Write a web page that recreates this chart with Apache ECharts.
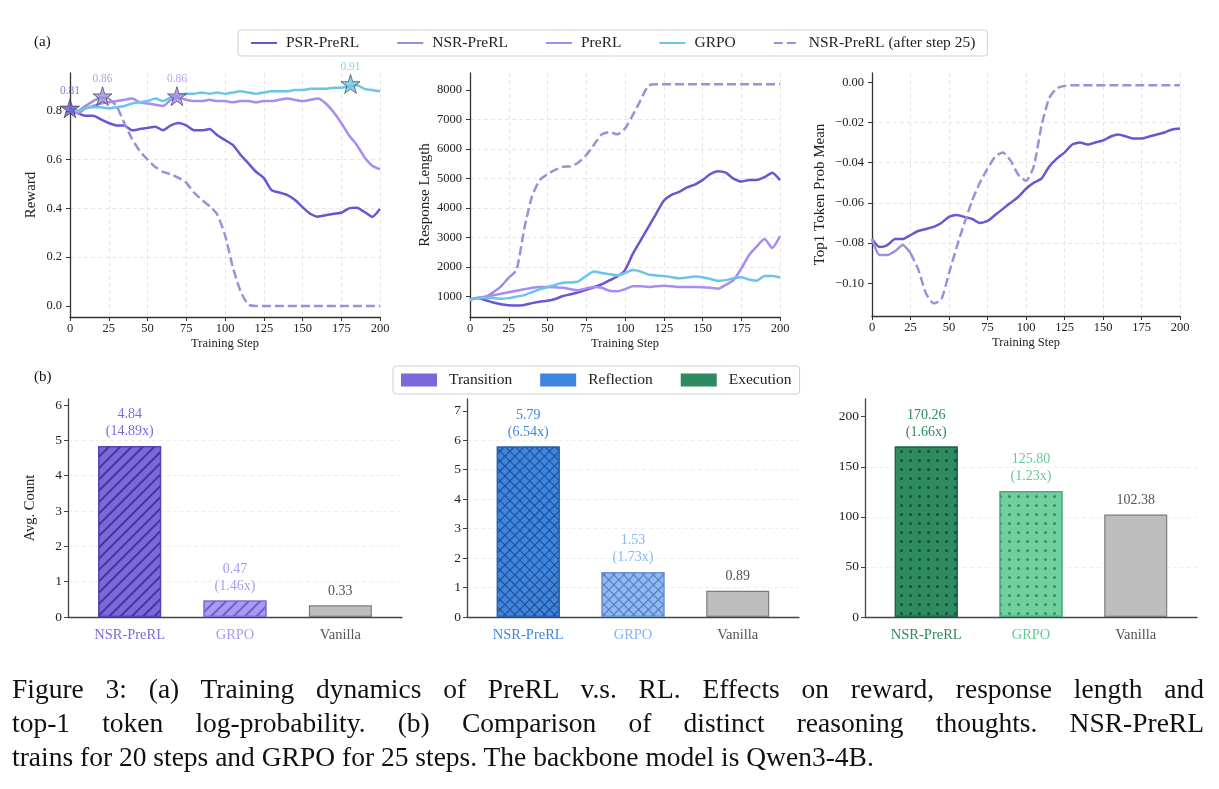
<!DOCTYPE html>
<html><head><meta charset="utf-8">
<script src="https://cdn.jsdelivr.net/npm/echarts@6/dist/echarts.min.js"></script>
<style>
html,body{margin:0;padding:0;background:#fff;}
#chart{position:absolute;left:0;top:0;width:1219px;height:789px;}
#caption{position:absolute;left:12px;top:672px;width:1192px;font-family:'Liberation Serif','Times New Roman',serif;font-size:27.5px;line-height:34px;color:#111;}
#caption .j{text-align:justify;text-align-last:justify;}
#caption .l{text-align:left;}
</style></head>
<body>
<div id="chart"></div>
<div id="caption">
<div class="j">Figure 3: (a) Training dynamics of PreRL v.s. RL. Effects on reward, response length and</div>
<div class="j">top-1 token log-probability. (b) Comparison of distinct reasoning thoughts. NSR-PreRL</div>
<div class="l">trains for 20 steps and GRPO for 25 steps. The backbone model is Qwen3-4B.</div>
</div>
<script>
// ---------------- DATA ----------------
const steps = [0,5,10,15,20,25,30,35,40,45,50,55,60,65,70,75,80,85,90,95,100,105,110,115,120,125,130,135,140,145,150,155,160,165,170,175,180,185,190,195,200];
const nsrSteps = steps.slice(0, 6);      // 0..25
const afterSteps = steps.slice(5);       // 25..200

// Reward
const rewardPSR = [0.81,0.79,0.78,0.78,0.765,0.75,0.74,0.74,0.72,0.725,0.73,0.735,0.72,0.74,0.75,0.74,0.72,0.72,0.725,0.70,0.68,0.66,0.62,0.585,0.55,0.525,0.475,0.465,0.455,0.435,0.405,0.378,0.366,0.372,0.378,0.382,0.40,0.402,0.385,0.365,0.397];
const rewardPreRL = [0.80,0.79,0.81,0.82,0.83,0.835,0.84,0.845,0.85,0.835,0.83,0.825,0.82,0.845,0.855,0.845,0.84,0.84,0.845,0.84,0.84,0.835,0.84,0.84,0.835,0.84,0.84,0.845,0.85,0.845,0.84,0.845,0.85,0.83,0.795,0.75,0.70,0.66,0.61,0.575,0.56];
const rewardGRPO = [0.80,0.80,0.81,0.815,0.815,0.81,0.815,0.82,0.83,0.835,0.84,0.85,0.84,0.855,0.865,0.87,0.87,0.875,0.87,0.875,0.87,0.875,0.88,0.875,0.87,0.875,0.88,0.88,0.88,0.885,0.885,0.89,0.89,0.89,0.895,0.895,0.90,0.905,0.89,0.885,0.88];
const rewardNSR = [0.81,0.80,0.82,0.84,0.855,0.85];
const rewardNSRAfter = [0.85,0.82,0.75,0.685,0.635,0.60,0.57,0.55,0.54,0.525,0.505,0.465,0.435,0.41,0.375,0.29,0.16,0.06,0.005,0,0,0,0,0,0,0,0,0,0,0,0,0,0,0,0,0];

// Best-reward stars
const starSteps = [0, 21, 69, 181];
const starValues = [0.81, 0.86, 0.86, 0.91];
const starSeries = ['PSR-PreRL', 'NSR-PreRL', 'PreRL', 'GRPO'];

// Response length
const lenPSR = [900,950,880,800,740,710,700,720,780,830,860,920,1020,1080,1150,1230,1320,1420,1550,1680,1900,2450,2900,3350,3800,4250,4450,4550,4700,4800,4950,5150,5250,5200,5000,4900,4950,4950,5050,5200,4950];
const lenPreRL = [900,950,1000,1050,1100,1150,1200,1250,1300,1330,1330,1320,1300,1250,1220,1280,1330,1300,1200,1180,1250,1350,1350,1330,1350,1370,1350,1330,1330,1330,1320,1300,1270,1400,1560,1950,2400,2700,2950,2650,3050];
const lenGRPO = [900,950,950,950,930,950,1000,1050,1150,1250,1320,1400,1470,1480,1520,1700,1850,1800,1760,1720,1800,1900,1850,1750,1720,1700,1660,1620,1650,1680,1660,1600,1540,1560,1620,1660,1580,1540,1700,1700,1650];
const lenNSR = [900,960,1000,1150,1350,1650];
const lenNSRAfter = [1650,1900,3300,4400,4950,5150,5300,5400,5420,5550,5800,6150,6500,6580,6500,6700,7150,7650,8150,8200,8200,8200,8200,8200,8200,8200,8200,8200,8200,8200,8200,8200,8200,8200,8200,8200];

// Top1 token prob mean
const topPSR = [-0.078,-0.082,-0.081,-0.078,-0.078,-0.076,-0.074,-0.073,-0.072,-0.070,-0.067,-0.066,-0.067,-0.068,-0.070,-0.069,-0.066,-0.063,-0.060,-0.057,-0.053,-0.050,-0.048,-0.042,-0.038,-0.035,-0.031,-0.030,-0.031,-0.030,-0.029,-0.027,-0.026,-0.027,-0.028,-0.028,-0.027,-0.026,-0.025,-0.0235,-0.023];
const topNSR = [-0.078,-0.086,-0.086,-0.084,-0.081,-0.085];
const topNSRAfter = [-0.085,-0.093,-0.105,-0.110,-0.108,-0.095,-0.082,-0.070,-0.059,-0.050,-0.043,-0.037,-0.035,-0.039,-0.046,-0.049,-0.042,-0.022,-0.008,-0.003,-0.0018,-0.0015,-0.0015,-0.0015,-0.0015,-0.0015,-0.0015,-0.0015,-0.0015,-0.0015,-0.0015,-0.0015,-0.0015,-0.0015,-0.0015,-0.0015];

// Tick labels
const xTicks = [0,25,50,75,100,125,150,175,200];
const rewardTicks = [0,0.2,0.4,0.6,0.8];
const lenTicks = [1000,2000,3000,4000,5000,6000,7000,8000];
const topTicks = [-0.10,-0.08,-0.06,-0.04,-0.02,0];

// Bars (b)
const barCats = ['NSR-PreRL','GRPO','Vanilla'];
const transitionVals = [4.84, 0.47, 0.33];
const transitionRatio = [14.89, 1.46, null];
const reflectionVals = [5.79, 1.53, 0.89];
const reflectionRatio = [6.54, 1.73, null];
const executionVals = [170.26, 125.80, 102.38];
const executionRatio = [1.66, 1.23, null];
const transTicks = [0,1,2,3,4,5,6];
const reflTicks = [0,1,2,3,4,5,6,7];
const execTicks = [0,50,100,150,200];

// ---------------- STYLE ----------------
const FONT = "'Liberation Serif','Times New Roman',serif";
const C = {
  'PSR-PreRL': '#6A56D3',
  'NSR-PreRL': '#9D8FD9',
  'PreRL': '#A98CF2',
  'GRPO': '#6CC5E8'
};
const AX = '#333';
const GRIDC = '#e3e3e3';

function pairs(xs, ys){ return xs.map((x,i)=>[x, ys[i]]); }

function lineSeries(name, xs, ys, idx, dashed){
  return {
    type:'line', name: name, xAxisIndex: idx, yAxisIndex: idx,
    data: pairs(xs, ys), showSymbol:false, symbol:'none', smooth:0.2,
    lineStyle:{width:2.5, color: dashed ? C['NSR-PreRL'] : C[name], type: dashed ? [9,4] : 'solid'},
    itemStyle:{color: dashed ? C['NSR-PreRL'] : C[name]},
    z: 3, silent:true
  };
}

function topX(idx){
  return {
    type:'value', gridIndex: idx, min:0, max:200, interval:25,
    name: 'Training Step', nameLocation:'middle', nameGap:20,
    nameTextStyle:{fontFamily:FONT, fontSize:12.5, color:'#222'},
    axisLine:{show:true, onZero:false, lineStyle:{color:AX, width:1.3}},
    axisTick:{show:true, length:4, lineStyle:{color:AX}},
    axisLabel:{fontFamily:FONT, fontSize:12.5, color:'#222', margin:5},
    splitLine:{show:true, lineStyle:{color:GRIDC, type:[4,3], width:0.9}}
  };
}
function topY(idx, min, max, ticks, fmt, name, gap){
  return {
    type:'value', gridIndex: idx, min:min, max:max,
    name: name, nameLocation:'middle', nameGap:gap,
    nameTextStyle:{fontFamily:FONT, fontSize:15, color:'#222'},
    axisLine:{show:true, onZero:false, lineStyle:{color:AX, width:1.3}},
    axisTick:{show:true, length:4, lineStyle:{color:AX}, customValues: ticks},
    axisLabel:{fontFamily:FONT, fontSize:12.5, color:'#222', margin:8, customValues: ticks, formatter: fmt},
    splitLine:{show:true, showMinLine:false, showMaxLine:false, lineStyle:{color:GRIDC, type:[4,3], width:0.9}}
  };
}
function botX(idx, colors){
  return {
    type:'value', gridIndex: idx, min:-0.585, max:2.585,
    axisLine:{show:true, onZero:false, lineStyle:{color:'#444', width:1.3}},
    axisTick:{show:false, customValues:[0,1,2]},
    axisLabel:{fontFamily:FONT, fontSize:14.5, margin:11, customValues:[0,1,2],
      formatter: v => barCats[Math.round(v)],
      color: (v) => colors[Math.round(v)]},
    splitLine:{show:false}
  };
}
function botY(idx, max, ticks, name){
  return {
    type:'value', gridIndex: idx, min:0, max:max,
    name: name || '', nameLocation:'middle', nameGap:30,
    nameTextStyle:{fontFamily:FONT, fontSize:14.5, color:'#222'},
    axisLine:{show:true, onZero:false, lineStyle:{color:'#444', width:1.3}},
    axisTick:{show:true, length:4, lineStyle:{color:'#444'}, customValues: ticks},
    axisLabel:{fontFamily:FONT, fontSize:13.5, color:'#222', margin:6, customValues: ticks},
    splitLine:{show:true, showMinLine:false, showMaxLine:false, lineStyle:{color:'#ececec', type:[4,3], width:0.9}}
  };
}

const hatch = (col) => ({symbol:'rect', symbolSize:1, dashArrayX:[1,0], dashArrayY:[1.4,5.4], rotation:-Math.PI/4, color:col});
const cross = (col) => ({symbol:'path://M0,0 H10 V1.6 H1.6 V10 H0 Z', symbolSize:1, symbolKeepAspect:false, dashArrayX:[6.4,0], dashArrayY:[6.4,0], rotation:Math.PI/4, color:col});
const dots = (col) => ({symbol:'circle', symbolSize:1, dashArrayX:[2.2,5.8], dashArrayY:[2.2,5.8], rotation:0, color:col});

function barSeries(name, idx, vals, ratios, fills, edges, decals, labelColors){
  return {
    type:'bar', name:name, xAxisIndex:idx, yAxisIndex:idx, barWidth:63,
    itemStyle:{color: fills[0]},
    data: vals.map((v,i)=>{
      const st = {color: fills[i], borderColor: edges[i], borderWidth:1.2};
      if (decals[i]) st.decal = decals[i];
      return {value:[i, v], itemStyle: st, label:{color: labelColors[i]}};
    }),
    label:{show:true, position:'top', distance:6, fontFamily:FONT, fontSize:14, lineHeight:17,
      formatter: p => vals[p.dataIndex].toFixed(2) + (ratios[p.dataIndex] != null ? '\n(' + ratios[p.dataIndex].toFixed(2) + 'x)' : '')},
    silent:true
  };
}

const tFill = ['#7B68DA','#A99BF2','#BEBEBE'];
const tEdge = ['#5443B5','#7E6FD6','#7d7d7d'];
const tLab  = ['#7B68DA','#A99BF2','#555'];
const rFill = ['#3D86E0','#8DB9F5','#BEBEBE'];
const rEdge = ['#2C62A8','#6A95D0','#7d7d7d'];
const rLab  = ['#3D86E0','#86B5F2','#555'];
const eFill = ['#2E8B61','#6FCF9D','#BEBEBE'];
const eEdge = ['#1F6647','#4FA77A','#7d7d7d'];
const eLab  = ['#2A8A5E','#66C99A','#555'];

const fmt1 = v => v.toFixed(1);
const fmt0 = v => String(Math.round(v));
const fmt2 = v => v.toFixed(2).replace('-', '\u2212');

const option = {
  animation:false,
  backgroundColor:'#fff',
  textStyle:{fontFamily:FONT},
  grid:[
    {left:70, top:73, width:310, height:244},
    {left:470, top:73, width:310, height:244},
    {left:872, top:73, width:308, height:243},
    {left:68, top:399, width:334, height:218},
    {left:467, top:399, width:332, height:218},
    {left:865, top:399, width:332, height:218}
  ],
  legend:[
    {data:['PSR-PreRL','NSR-PreRL','PreRL','GRPO','NSR-PreRL (after step 25)'],
     left:238, top:30, padding:[5,12,5,12], itemWidth:26, itemHeight:10, itemGap:37,
     itemStyle:{color:'rgba(0,0,0,0)', borderWidth:0},
     borderColor:'#cfcfcf', borderWidth:1, borderRadius:3, selectedMode:false,
     textStyle:{fontFamily:FONT, fontSize:15.5, color:'#222', padding:[0,0,0,4]}},
    {data:['Transition','Reflection','Execution'],
     left:393, top:366, padding:[6,8,6,8], itemWidth:36, itemHeight:13, itemGap:28, icon:'rect',
     borderColor:'#cfcfcf', borderWidth:1, borderRadius:3, selectedMode:false,
     textStyle:{fontFamily:FONT, fontSize:15.5, color:'#222', padding:[0,0,0,7]}}
  ],
  xAxis:[topX(0), topX(1), topX(2),
    botX(3, tLab), botX(4, rLab), botX(5, eLab)],
  yAxis:[
    topY(0, -0.0455, 0.955, rewardTicks, fmt1, 'Reward', 31),
    topY(1, 310, 8580, lenTicks, fmt0, 'Response Length', 37),
    topY(2, -0.1163, 0.0046, topTicks, fmt2, 'Top1 Token Prob Mean', 44),
    botY(3, 6.17, transTicks, 'Avg. Count'),
    botY(4, 7.4, reflTicks),
    botY(5, 217.7, execTicks)
  ],
  graphic:[
    {type:'text', left:34, top:35, style:{text:'(a)', font:"15px 'Liberation Serif', serif", fill:'#111'}},
    {type:'text', left:34, top:370, style:{text:'(b)', font:"15px 'Liberation Serif', serif", fill:'#111'}}
  ],
  series:[
    lineSeries('PSR-PreRL', steps, rewardPSR, 0),
    lineSeries('NSR-PreRL', nsrSteps, rewardNSR, 0),
    lineSeries('PreRL', steps, rewardPreRL, 0),
    lineSeries('GRPO', steps, rewardGRPO, 0),
    lineSeries('NSR-PreRL (after step 25)', afterSteps, rewardNSRAfter, 0, true),
    {type:'scatter', name:'best', xAxisIndex:0, yAxisIndex:0, clip:false, z:10, silent:true,
     symbol:'path://M50,0 L61.8,36.2 L100,36.2 L69.1,58.8 L80.9,95.1 L50,72.7 L19.1,95.1 L30.9,58.8 L0,36.2 L38.2,36.2 Z',
     symbolSize:19,
     data: starSteps.map((s,i)=>({value:[s, starValues[i]],
       itemStyle:{color:C[starSeries[i]], borderColor:'#333', borderWidth:0.8},
       label:{color:C[starSeries[i]]}})),
     label:{show:true, position:'top', distance:1, fontFamily:FONT, fontSize:11.5,
       formatter: p => starValues[p.dataIndex].toFixed(2)}},
    lineSeries('PSR-PreRL', steps, lenPSR, 1),
    lineSeries('NSR-PreRL', nsrSteps, lenNSR, 1),
    lineSeries('PreRL', steps, lenPreRL, 1),
    lineSeries('GRPO', steps, lenGRPO, 1),
    lineSeries('NSR-PreRL (after step 25)', afterSteps, lenNSRAfter, 1, true),
    lineSeries('PSR-PreRL', steps, topPSR, 2),
    lineSeries('NSR-PreRL', nsrSteps, topNSR, 2),
    lineSeries('NSR-PreRL (after step 25)', afterSteps, topNSRAfter, 2, true),
    barSeries('Transition', 3, transitionVals, transitionRatio, tFill, tEdge,
      [hatch('rgba(50,38,130,0.75)'), hatch('rgba(95,80,190,0.8)'), null], tLab),
    barSeries('Reflection', 4, reflectionVals, reflectionRatio, rFill, rEdge,
      [cross('rgba(25,60,120,0.8)'), cross('rgba(70,105,165,0.8)'), null], rLab),
    barSeries('Execution', 5, executionVals, executionRatio, eFill, eEdge,
      [dots('rgba(20,70,45,0.85)'), dots('rgba(45,130,85,0.85)'), null], eLab)
  ]
};

const chart = echarts.init(document.getElementById('chart'), null, {renderer:'canvas'});
chart.setOption(option);
</script>
</body></html>
